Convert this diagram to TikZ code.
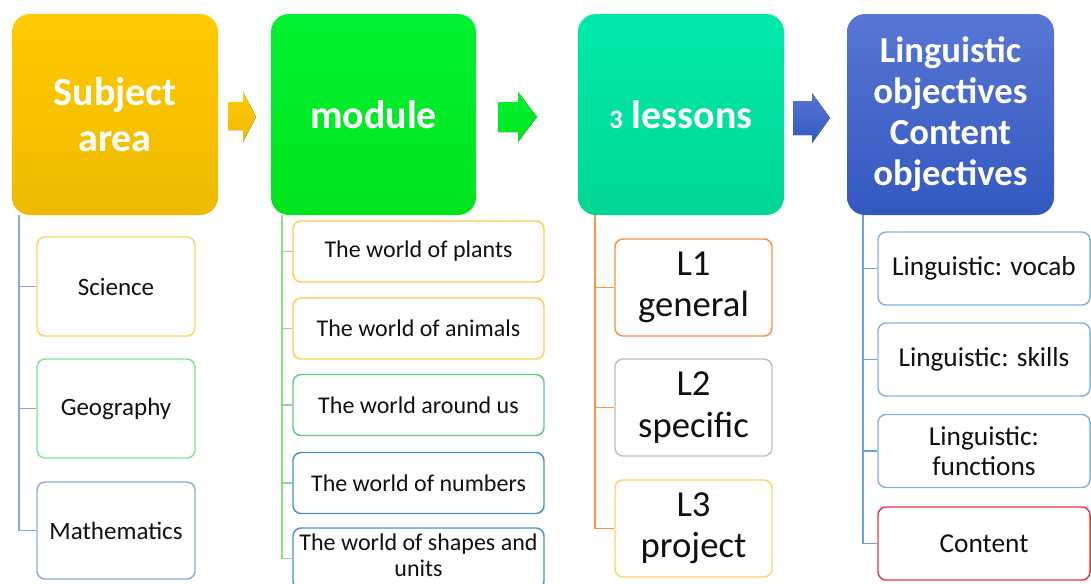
\documentclass[tikz,border=0pt]{standalone}
\usepackage{fontspec}
\setmainfont{Carlito}
\usetikzlibrary{positioning}

\definecolor{subjTop}{RGB}{255,202,0}
\definecolor{subjBot}{RGB}{238,186,0}
\definecolor{modTop}{RGB}{0,242,48}
\definecolor{modBot}{RGB}{0,228,30}
\definecolor{lesTop}{RGB}{0,234,172}
\definecolor{lesBot}{RGB}{0,214,148}
\definecolor{objTop}{RGB}{88,118,212}
\definecolor{objBot}{RGB}{50,88,192}
\definecolor{lineSubj}{RGB}{142,164,226}
\definecolor{lineMod}{RGB}{140,217,140}
\definecolor{lineLes}{RGB}{255,148,72}
\definecolor{lineObj}{RGB}{110,159,214}
\definecolor{bdYellow}{RGB}{255,212,100}
\definecolor{bdGold}{RGB}{255,204,77}
\definecolor{bdGreen}{RGB}{121,232,144}
\definecolor{bdSea}{RGB}{92,203,133}
\definecolor{bdLav}{RGB}{147,168,228}
\definecolor{bdBlue}{RGB}{74,144,217}
\definecolor{bdOrange}{RGB}{255,140,66}
\definecolor{bdGray}{RGB}{191,191,191}
\definecolor{bdSky}{RGB}{127,179,230}
\definecolor{bdRed}{RGB}{232,56,61}
\definecolor{txt}{RGB}{17,17,17}

\begin{document}
\begin{tikzpicture}[x=0.75pt,y=0.75pt,yscale=-1,xscale=1,
    header/.style={rounded corners=13.5pt, inner sep=0pt, text=white, align=center,
        minimum height=150.75pt, font=\bfseries\fontsize{30}{34.5}\selectfont},
    item/.style={draw, rounded corners=6pt, line width=1.1pt, inner sep=0pt, text=txt,
        align=center, fill=white},
    link/.style={line width=1.1pt}]
    \useasboundingbox (0,0) rectangle (1091,583);
    \clip (0,0) rectangle (1091,583);

    %Shape: Header boxes
    \node [header, top color=subjTop, bottom color=subjBot, minimum width=154.5pt] (hSubj) at (115,114.5) {Subject\\area};
    \node [header, top color=modTop, bottom color=modBot, minimum width=153.75pt] (hMod) at (373.5,114.5) {module};
    \node [header, top color=lesTop, bottom color=lesBot, minimum width=154.5pt] (hLes) at (681,114.5) {{\fontsize{20}{24}\selectfont 3} lessons};
    \node [header, top color=objTop, bottom color=objBot, minimum width=155.25pt,
        font=\bfseries\fontsize{27.5}{30.75}\selectfont] (hObj) at (950.5,114.5) {Linguistic\\objectives\\Content\\objectives};

    %Shape: Block arrows
    \fill [top color=subjTop, bottom color=subjBot] (228,102) -- (243,102) -- (243,92) -- (256,117) -- (243,142) -- (243,130) -- (228,130) -- cycle ;
    \fill [top color=modTop, bottom color=modBot] (498,102) -- (518,102) -- (518,92) -- (537,117) -- (518,142) -- (518,132) -- (498,132) -- cycle ;
    \fill [top color=objTop, bottom color=objBot] (793,101) -- (812,101) -- (812,93) -- (830,118) -- (812,143) -- (812,135) -- (793,135) -- cycle ;

    % Subject area items
    \begin{scope}[every node/.append style={item, minimum width=118.5pt, font=\fontsize{18.75}{22}\selectfont}]
        \node [draw=bdYellow, minimum height=74.25pt] (cSci) at (116,286.5) {Science};
        \node [draw=bdGreen, minimum height=74.25pt] (cGeo) at (116,408.5) {Geography};
        \node [draw=bdLav, minimum height=72.75pt] (cMath) at (116,530.5) {Mathematics};
    \end{scope}

    % module items
    \begin{scope}[every node/.append style={item, minimum width=188.25pt, minimum height=45.75pt, font=\fontsize{18}{20.5}\selectfont}]
        \node [draw=bdGold] (mPlants) at (418.5,251.5) {The world of plants};
        \node [draw=bdGold] (mAnimals) at (418.5,328.5) {The world of animals};
        \node [draw=bdSea] (mAround) at (418.5,405) {The world around us};
        \node [draw=bdBlue] (mNumbers) at (418.5,483) {The world of numbers};
        \node [draw=bdBlue] (mShapes) at (418.5,558.5) {};
    \end{scope}
    % Text Node
    \node [text=txt, align=center, inner sep=0pt, font=\fontsize{18}{20}\selectfont] (mShapesTxt) at (mShapes) [yshift=2.5pt] {The world of shapes and\\units};

    % lesson items
    \begin{scope}[every node/.append style={item, minimum width=117.75pt, minimum height=72.75pt, font=\fontsize{27.5}{31}\selectfont}]
        \node [draw=bdOrange] (lOne) at (693.5,287.5) {L1\\general};
        \node [draw=bdGray] (lTwo) at (693.5,407.5) {L2\\specific};
        \node [draw=bdYellow] (lThree) at (693.5,528.5) {L3\\project};
    \end{scope}

    % objective items
    \begin{scope}[every node/.append style={item, minimum width=159pt, minimum height=54.75pt, font=\fontsize{20.5}{22}\selectfont}]
        \node [draw=bdSky] (oVocab) at (984,268.5) {Linguistic: vocab};
        \node [draw=bdSky] (oSkills) at (984,359.5) {Linguistic: skills};
        \node [draw=bdSky] (oFunc) at (984,451) {Linguistic:\\functions};
        \node [draw=bdRed] (oContent) at (984,543.5) {Content};
    \end{scope}

    %Straight Lines: trunks
    \coordinate (tSubj) at (19,215);
    \coordinate (tMod) at (282,215);
    \coordinate (tLes) at (595,215);
    \coordinate (tObj) at (863,215);
    \foreach \c in {cSci,cGeo,cMath} \draw [link, lineSubj] (tSubj) |- (\c.west);
    \foreach \c in {mPlants,mAnimals,mAround,mNumbers,mShapes} \draw [link, lineMod] (tMod) |- (\c.west);
    \foreach \c in {lOne,lTwo,lThree} \draw [link, lineLes] (tLes) |- (\c.west);
    \foreach \c in {oVocab,oSkills,oFunc,oContent} \draw [link, lineObj] (tObj) |- (\c.west);

\end{tikzpicture}
\end{document}
